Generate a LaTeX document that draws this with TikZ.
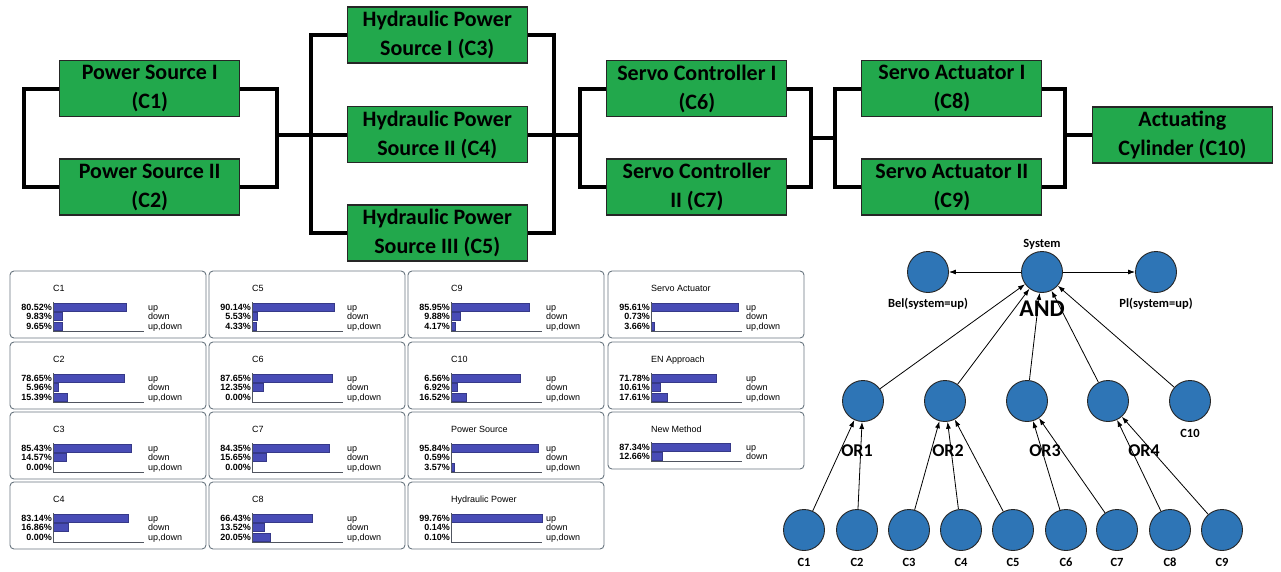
\documentclass[tikz,border=0pt]{standalone}
\usepackage{fontspec}
\setmainfont{Carlito}
\newfontfamily\arialfont{Liberation Sans}
\usetikzlibrary{arrows.meta,calc}
\definecolor{boxgreen}{RGB}{34,168,76}
\definecolor{nodeblue}{RGB}{46,117,182}
\definecolor{barblue}{RGB}{72,76,182}
\definecolor{panelgray}{RGB}{105,118,128}
\definecolor{axisgray}{RGB}{80,85,95}
\tikzset{
 blk/.style={draw=black!85, line width=1.2pt, fill=boxgreen, align=center,
   font=\fontsize{22}{29}\selectfont\bfseries, minimum width=180pt, minimum height=56pt, inner sep=0pt},
 wire/.style={line width=4pt, black},
 bn/.style={circle, draw=black!85, line width=0.9pt, fill=nodeblue, minimum size=41pt, inner sep=0pt},
 arr/.style={-{Latex[length=7pt,width=5pt]}, line width=0.8pt},
 lab/.style={font=\fontsize{12.5}{14}\selectfont\bfseries, inner sep=0pt},
 gate/.style={font=\fontsize{18}{20}\selectfont\bfseries, inner sep=0pt},
 pframe/.style={draw=panelgray, line width=0.9pt, rounded corners=4pt},
 ptxt/.style={font=\arialfont\fontsize{9}{10}\selectfont, inner sep=0pt},
 pct/.style={font=\arialfont\bfseries\fontsize{9}{10}\selectfont, inner sep=0pt, anchor=base east},
 bar/.style={fill=barblue, draw=barblue!75!black, line width=0.4pt},
 axisln/.style={draw=axisgray, line width=0.8pt},
}
% #1 x, #2 y, #3 title, #4-#6 printed values, #7-#9 bar values
\newcommand\bpanel[9]{%
 \begin{scope}[shift={(#1,#2)}]
  \draw[pframe] (0,0) rectangle (196,67);
  \node[ptxt, anchor=base west] (t#1-#2) at (43,20) {#3};
  \fill[bar] (43,32) rectangle ({43+0.91*#7},40);
  \fill[bar] (43,41.5) rectangle ({43+0.91*#8},49.5);
  \fill[bar] (43,51) rectangle ({43+0.91*#9},59);
  \draw[axisln] (43,31) -- (43,60) -- (134,60);
  \node[pct] (pa#1-#2) at (42,39.3) {#4\%};
  \node[pct] (pb#1-#2) at (42,48.8) {#5\%};
  \node[pct] (pc#1-#2) at (42,58.3) {#6\%};
  \node[ptxt, anchor=base west] (la#1-#2) at (138,39.3) {up};
  \node[ptxt, anchor=base west] (lb#1-#2) at (138,48.8) {down};
  \node[ptxt, anchor=base west] (lc#1-#2) at (138,58.3) {up,down};
 \end{scope}}
\begin{document}
\begin{tikzpicture}[x=1pt,y=-1pt]
\useasboundingbox (0,0) rectangle (1281,571);
\fill[white] (0,0) rectangle (1281,571);

% ---------- reliability block diagram ----------
\node[blk] (c1) at (149.75,88.5) {Power Source I\\(C1)};
\node[blk] (c2) at (149.75,187) {Power Source II\\(C2)};
\node[blk] (c3) at (437.25,35) {Hydraulic Power\\Source I (C3)};
\node[blk] (c4) at (437.25,134.5) {Hydraulic Power\\Source II (C4)};
\node[blk] (c5) at (437.25,233) {Hydraulic Power\\Source III (C5)};
\node[blk] (c6) at (696.85,88.5) {Servo Controller I\\(C6)};
\node[blk] (c7) at (696.85,187) {Servo Controller\\II (C7)};
\node[blk] (c8) at (951.85,88.5) {Servo Actuator I\\(C8)};
\node[blk] (c9) at (951.85,187) {Servo Actuator II\\(C9)};
\node[blk] (c10) at (1182.35,135) {Actuating\\Cylinder (C10)};

\draw[wire] (c1.west) -- ++(-35.5,0) |- (c2.west);
\draw[wire] (c1.east) -- ++(37,0) |- (c2.east);
\draw[wire] (c4.west) -- ++(-70.5,0);
\draw[wire] (c3.west) -- ++(-36,0) |- (c5.west);
\draw[wire] (c3.east) -- ++(26,0) |- (c5.east);
\draw[wire] (c4.east) -- ++(52.5,0);
\draw[wire] (c6.west) -- ++(-26.5,0) |- (c7.west);
\draw[wire] (c6.east) -- ++(24,0) |- (c7.east);
\coordinate (j3) at (811,137.75);
\coordinate (j4) at (835.85,137.75);
\draw[wire] (j3) -- (j4);
\draw[wire] (c8.west) -- ++(-26,0) |- (c9.west);
\draw[wire] (c8.east) -- ++(23,0) |- (c9.east);
\draw[wire] (c10.west) -- ++(-27,0);

% ---------- belief panels ----------
\bpanel{10}{271}{C1}{80.52}{9.83}{9.65}{80.52}{9.83}{9.65}
\bpanel{10}{342}{C2}{78.65}{5.96}{15.39}{78.65}{5.96}{15.39}
\bpanel{10}{412}{C3}{85.43}{14.57}{0.00}{85.43}{14.57}{0.00}
\bpanel{10}{482}{C4}{83.14}{16.86}{0.00}{83.14}{16.86}{0.00}
\bpanel{209}{271}{C5}{90.14}{5.53}{4.33}{90.14}{5.53}{4.33}
\bpanel{209}{342}{C6}{87.65}{12.35}{0.00}{87.65}{12.35}{0.00}
\bpanel{209}{412}{C7}{84.35}{15.65}{0.00}{84.35}{15.65}{0.00}
\bpanel{209}{482}{C8}{66.43}{13.52}{20.05}{66.43}{13.52}{20.05}
\bpanel{408}{271}{C9}{85.95}{9.88}{4.17}{85.95}{9.88}{4.17}
\bpanel{408}{342}{C10}{6.56}{6.92}{16.52}{76.56}{6.92}{16.52}
\bpanel{408}{412}{Power Source}{95.84}{0.59}{3.57}{95.84}{0.59}{3.57}
\bpanel{408}{482}{Hydraulic Power}{99.76}{0.14}{0.10}{99.76}{0.14}{0.10}
\bpanel{608}{271}{Servo Actuator}{95.61}{0.73}{3.66}{95.61}{0.73}{3.66}
\bpanel{608}{342}{EN Approach}{71.78}{10.61}{17.61}{71.78}{10.61}{17.61}
\begin{scope}[shift={(608,412)}]
  \draw[pframe] (0,0) rectangle (196,57);
  \node[ptxt, anchor=base west] (tnm) at (43,20) {New Method};
  \fill[bar] (43,31) rectangle ({43+0.91*87.34},39);
  \fill[bar] (43,40.5) rectangle ({43+0.91*12.66},48.5);
  \draw[axisln] (43,30) -- (43,49.7) -- (134,49.7);
  \node[pct] (pnm1) at (42,38.3) {87.34\%};
  \node[pct] (pnm2) at (42,47.8) {12.66\%};
  \node[ptxt, anchor=base west] (lnm1) at (138,38.3) {up};
  \node[ptxt, anchor=base west] (lnm2) at (138,47.8) {down};
\end{scope}

% ---------- evidential network ----------
\node[bn] (sys) at (1042,272) {};
\node[bn] (bel) at (928,272) {};
\node[bn] (pl) at (1156,272) {};
\node[bn] (or1) at (863,401) {};
\node[bn] (or2) at (945,401) {};
\node[bn] (or3) at (1027,401) {};
\node[bn] (or4) at (1108,401) {};
\node[bn] (n10) at (1190,401) {};
\foreach \i/\x in {1/804,2/857,3/909,4/961,5/1013,6/1066,7/1117,8/1170,9/1222}{
  \node[bn] (b\i) at (\x,530) {};
  \node[lab] (lb\i) at (\x,562) {C\i};
}
\node[lab] (lsys) at (1042,244) {System};
\node[lab] (lbel) at (928,304) {Bel(system=up)};
\node[lab] (lpl) at (1156,304) {Pl(system=up)};
\node[lab] (l10) at (1190,433) {C10};
\node[font=\fontsize{24}{26}\selectfont\bfseries, inner sep=0pt] (and) at (1042,309) {AND};
\node[gate] (g1) at (857,451) {OR1};
\node[gate] (g2) at (948,451) {OR2};
\node[gate] (g3) at (1045,451) {OR3};
\node[gate] (g4) at (1144,451) {OR4};

\draw[arr] (sys) -- (bel);
\draw[arr] (sys) -- (pl);
\foreach \s in {or1,or2,or3,or4,n10} \draw[arr] (\s) -- (sys);
\draw[arr] (b1) -- (or1);
\draw[arr] (b2) -- (or1);
\draw[arr] (b3) -- (or2);
\draw[arr] (b4) -- (or2);
\draw[arr] (b5) -- (or2);
\draw[arr] (b6) -- (or3);
\draw[arr] (b7) -- (or3);
\draw[arr] (b8) -- (or4);
\draw[arr] (b9) -- (or4);
\end{tikzpicture}
\end{document}
